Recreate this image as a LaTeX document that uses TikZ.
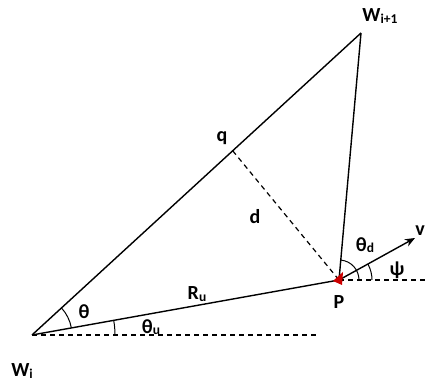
\documentclass[tikz,border=0pt]{standalone}
\usepackage{fontspec}
\setmainfont{Carlito}
\usetikzlibrary{arrows.meta,angles,calc}
\newcommand{\lsub}[1]{\raisebox{-1.5pt}{\fontsize{13.5}{14}\selectfont #1}}
\begin{document}
\begin{tikzpicture}[x=1pt,y=1pt,
  lbl/.style={font=\fontsize{20}{22}\selectfont\bfseries, inner sep=0pt},
  edge/.style={line width=1.4pt, black},
  dline/.style={line width=1.2pt, dash pattern=on 5pt off 4pt},
  arcstyle/.style={draw, line width=1pt}]
\useasboundingbox (0,0) rectangle (429,387);
\coordinate (Wi) at (32,52);
\coordinate (Wi1) at (361,354);
\coordinate (P) at (339,107);
\coordinate (q) at ($(Wi)!0.61!(Wi1)$);
\coordinate (H) at (317,52);
\coordinate (R) at (429,107);
\coordinate (V) at (415,149);
% dashed lines
\draw[dline] (Wi) -- (H);
\draw[dline] (P) -- (R);
\draw[dline] (q) -- (P);
% triangle edges
\draw[edge] (Wi) -- (Wi1);
\draw[edge] (Wi1) -- (P);
\draw[edge] (Wi) -- (P);
\draw[edge, -{Stealth[length=10pt,width=8pt]}] (P) -- (V);
% angles
\pic[arcstyle, angle radius=40pt] {angle = P--Wi--Wi1};
\pic[arcstyle, angle radius=83pt] {angle = H--Wi--P};
\pic[arcstyle, angle radius=20pt] {angle = R--P--Wi1};
\pic[arcstyle, angle radius=33pt] {angle = R--P--V};
% red marker
\fill[red!80!black] ($(P)+(-6,-1)$) -- ($(P)+(4,8)$) -- ($(P)+(3,-5)$) -- cycle;
% labels
\node[lbl] (lWi) at (22,16) {W\lsub{i}};
\node[lbl] (lWi1) at (380,371) {W\lsub{i+1}};
\node[lbl] (lq) at (222,249) {q};
\node[lbl] (ld) at (255,170) {d};
\node[lbl] (lth) at (84,75) {θ};
\node[lbl] (lthu) at (151,60) {θ\lsub{u}};
\node[lbl] (lRu) at (197,93) {R\lsub{u}};
\node[lbl] (lP) at (339,85) {P};
\node[lbl] (lthd) at (365,142) {θ\lsub{d}};
\node[lbl] (lpsi) at (397,117) {ψ};
\node[lbl] (lv) at (420,156) {v};
\end{tikzpicture}
\end{document}
